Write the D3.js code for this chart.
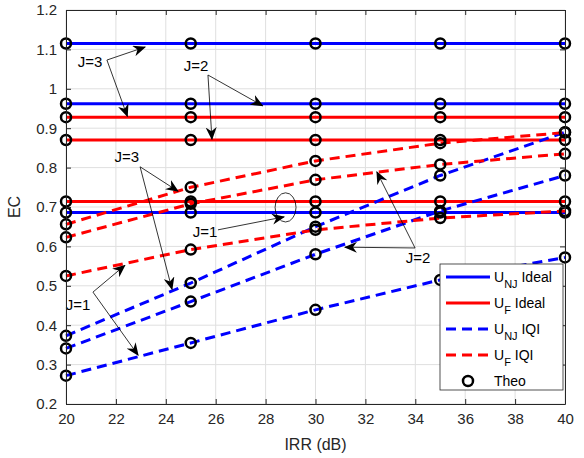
<!DOCTYPE html>
<html>
<head>
<meta charset="utf-8">
<script src="https://cdn.jsdelivr.net/npm/d3@7"></script>
<style>
  body { margin: 0; background: #fff; }
  text { font-family: 'Liberation Sans', Arial, sans-serif; }
</style>
</head>
<body>
<div id="graph"></div>
<script>
// IRR sample points (dB)
const irr = [20, 25, 30, 35, 40]

// Ideal curves are flat over IRR: values for J=1, J=2, J=3
const njIdeal = [0.686, 0.962, 1.115]
const fIdeal = [0.714, 0.870, 0.928]

// IQI curves, one value per IRR point
const njIqiJ1 = [0.272, 0.355, 0.439, 0.515, 0.572]
const njIqiJ2 = [0.341, 0.460, 0.580, 0.690, 0.780]
const njIqiJ3 = [0.373, 0.507, 0.650, 0.780, 0.890]
const fIqiJ1 = [0.525, 0.592, 0.642, 0.672, 0.690]
const fIqiJ2 = [0.623, 0.708, 0.769, 0.808, 0.835]
const fIqiJ3 = [0.656, 0.750, 0.817, 0.862, 0.889]

const xTicks = d3.range(20, 41, 2)
const yTicks = [0.2, 0.3, 0.4, 0.5, 0.6, 0.7, 0.8, 0.9, 1, 1.1, 1.2]

// annotation labels, arrows (data units)
const labels = [
  { text: 'J=3', at: [20.96, 1.068], from: [21.64, 1.073], to: [[23.17, 1.106], [22.46, 0.930]] },
  { text: 'J=2', at: [25.21, 1.058], from: [25.69, 1.035], to: [[27.88, 0.957], [25.85, 0.872]] },
  { text: 'J=3', at: [22.44, 0.827], from: [22.97, 0.802], to: [[24.49, 0.740], [24.25, 0.491]] },
  { text: 'J=1', at: [25.57, 0.637], from: [26.09, 0.642], to: [[28.74, 0.675]] },
  { text: 'J=1', at: [20.48, 0.451], from: [21.08, 0.484], to: [[22.36, 0.552], [22.89, 0.324]] },
  { text: 'J=2', at: [34.11, 0.571], from: [33.99, 0.596], to: [[32.46, 0.789], [31.18, 0.598]] }
]
const ellipse = { cx: 28.8, cy: 0.699, rx: 0.42, ry: 0.037 }

const W = 584, H = 458
const margin = { top: 10, right: 19, bottom: 54, left: 66 },
  width = W - margin.left - margin.right,
  height = H - margin.top - margin.bottom

const blue = '#0000ff', red = '#ff0000', axisColor = '#262626'

const svg = d3.select('#graph')
  .append('svg')
  .attr('width', W)
  .attr('height', H)

const defs = svg.append('defs')
defs.append('marker')
  .attr('id', 'arrow')
  .attr('markerUnits', 'userSpaceOnUse')
  .attr('viewBox', '0 0 13 11')
  .attr('refX', 12).attr('refY', 5.5)
  .attr('markerWidth', 13).attr('markerHeight', 11)
  .attr('orient', 'auto')
  .append('path')
  .attr('d', 'M0,0 L13,5.5 L0,11 L4,5.5 Z')
  .attr('fill', '#000')

const g = svg.append('g')
  .attr('transform', 'translate(' + margin.left + ',' + margin.top + ')')

const x = d3.scaleLinear().domain([20, 40]).range([0, width])
const y = d3.scaleLinear().domain([0.2, 1.2]).range([height, 0])

// grid
g.append('g').selectAll('line').data(xTicks).join('line')
  .attr('x1', d => x(d)).attr('x2', d => x(d))
  .attr('y1', 0).attr('y2', height)
  .attr('stroke', '#dfdfdf').attr('stroke-width', 1)
g.append('g').selectAll('line').data(yTicks).join('line')
  .attr('x1', 0).attr('x2', width)
  .attr('y1', d => y(d)).attr('y2', d => y(d))
  .attr('stroke', '#dfdfdf').attr('stroke-width', 1)

// series
const series = [
  ...njIdeal.map(v => ({ vals: irr.map(() => v), color: blue, dash: null })),
  ...fIdeal.map(v => ({ vals: irr.map(() => v), color: red, dash: null })),
  { vals: njIqiJ1, color: blue, dash: '10,6' },
  { vals: njIqiJ2, color: blue, dash: '10,6' },
  { vals: njIqiJ3, color: blue, dash: '10,6' },
  { vals: fIqiJ1, color: red, dash: '10,6' },
  { vals: fIqiJ2, color: red, dash: '10,6' },
  { vals: fIqiJ3, color: red, dash: '10,6' }
]

const line = d3.line()
  .x((d, i) => x(irr[i]))
  .y(d => y(d))

series.forEach(s => {
  g.append('path')
    .datum(s.vals)
    .attr('fill', 'none')
    .attr('stroke', s.color)
    .attr('stroke-width', 3)
    .attr('stroke-dasharray', s.dash)
    .attr('d', line)
})

// theory markers
const pts = []
series.forEach(s => s.vals.forEach((v, i) => pts.push([irr[i], v])))
g.append('g').selectAll('circle').data(pts).join('circle')
  .attr('cx', d => x(d[0])).attr('cy', d => y(d[1]))
  .attr('r', 5)
  .attr('fill', 'none')
  .attr('stroke', '#000')
  .attr('stroke-width', 2.5)

// annotations
labels.forEach(a => {
  a.to.forEach(t => {
    g.append('line')
      .attr('x1', x(a.from[0])).attr('y1', y(a.from[1]))
      .attr('x2', x(t[0])).attr('y2', y(t[1]))
      .attr('stroke', '#000').attr('stroke-width', 0.8)
      .attr('marker-end', 'url(#arrow)')
  })
  g.append('text')
    .attr('x', x(a.at[0])).attr('y', y(a.at[1]))
    .attr('text-anchor', 'middle')
    .attr('dy', '0.35em')
    .style('font-size', '15px')
    .text(a.text)
})
g.append('ellipse')
  .attr('cx', x(ellipse.cx)).attr('cy', y(ellipse.cy))
  .attr('rx', x(20 + ellipse.rx) - x(20))
  .attr('ry', y(0.2) - y(0.2 + ellipse.ry))
  .attr('fill', 'none').attr('stroke', '#000').attr('stroke-width', 0.8)

// axes box with inward ticks
const axBottom = g.append('g').attr('transform', 'translate(0,' + height + ')')
  .call(d3.axisBottom(x).tickValues(xTicks).tickSizeInner(-5).tickSizeOuter(0).tickPadding(9))
const axLeft = g.append('g')
  .call(d3.axisLeft(y).tickValues(yTicks).tickFormat(d3.format('')).tickSizeInner(-5).tickSizeOuter(0).tickPadding(9))
const axTop = g.append('g')
  .call(d3.axisTop(x).tickValues(xTicks).tickSizeInner(-5).tickSizeOuter(0).tickFormat(''))
const axRight = g.append('g').attr('transform', 'translate(' + width + ',0)')
  .call(d3.axisRight(y).tickValues(yTicks).tickSizeInner(-5).tickSizeOuter(0).tickFormat(''))

;[axBottom, axLeft, axTop, axRight].forEach(a => {
  a.select('.domain').attr('stroke', axisColor)
  a.selectAll('.tick line').attr('stroke', axisColor)
  a.selectAll('text').attr('fill', axisColor).style('font-size', '15px').style('font-family', 'Liberation Sans, Arial, sans-serif')
})

// axis labels
g.append('text')
  .attr('x', width / 2).attr('y', height + 46)
  .attr('text-anchor', 'middle')
  .attr('fill', axisColor)
  .style('font-size', '16px')
  .text('IRR (dB)')
g.append('text')
  .attr('transform', 'translate(' + (-46) + ',' + (height / 2) + ') rotate(-90)')
  .attr('text-anchor', 'middle')
  .attr('fill', axisColor)
  .style('font-size', '16px')
  .text('EC')

// legend
const legendItems = [
  { sub: 'NJ', name: 'Ideal', color: blue, dash: null },
  { sub: 'F', name: 'Ideal', color: red, dash: null },
  { sub: 'NJ', name: 'IQI', color: blue, dash: '10,6' },
  { sub: 'F', name: 'IQI', color: red, dash: '10,6' },
  { sub: null, name: 'Theo', marker: true }
]
const lg = g.append('g').attr('transform', 'translate(' + (width - 125) + ',' + (height - 140) + ')')
lg.append('rect')
  .attr('width', 123).attr('height', 126)
  .attr('fill', '#fff').attr('stroke', axisColor).attr('stroke-width', 0.8)
legendItems.forEach((d, i) => {
  const yy = 13 + i * 26
  if (d.marker) {
    lg.append('circle').attr('cx', 28).attr('cy', yy)
      .attr('r', 5).attr('fill', 'none').attr('stroke', '#000').attr('stroke-width', 2.5)
    lg.append('text').attr('x', 54).attr('y', yy).attr('dy', '0.35em')
      .style('font-size', '14px').text(d.name)
  } else {
    lg.append('line').attr('x1', 6).attr('x2', 50).attr('y1', yy).attr('y2', yy)
      .attr('stroke', d.color).attr('stroke-width', 3).attr('stroke-dasharray', d.dash)
    const t = lg.append('text').attr('x', 54).attr('y', yy).attr('dy', '0.35em')
      .style('font-size', '14px')
    t.append('tspan').text('U')
    t.append('tspan').attr('dy', 6).style('font-size', '11px').text(d.sub)
    t.append('tspan').attr('dy', -6).text(' ' + d.name)
  }
})
</script>
</body>
</html>
